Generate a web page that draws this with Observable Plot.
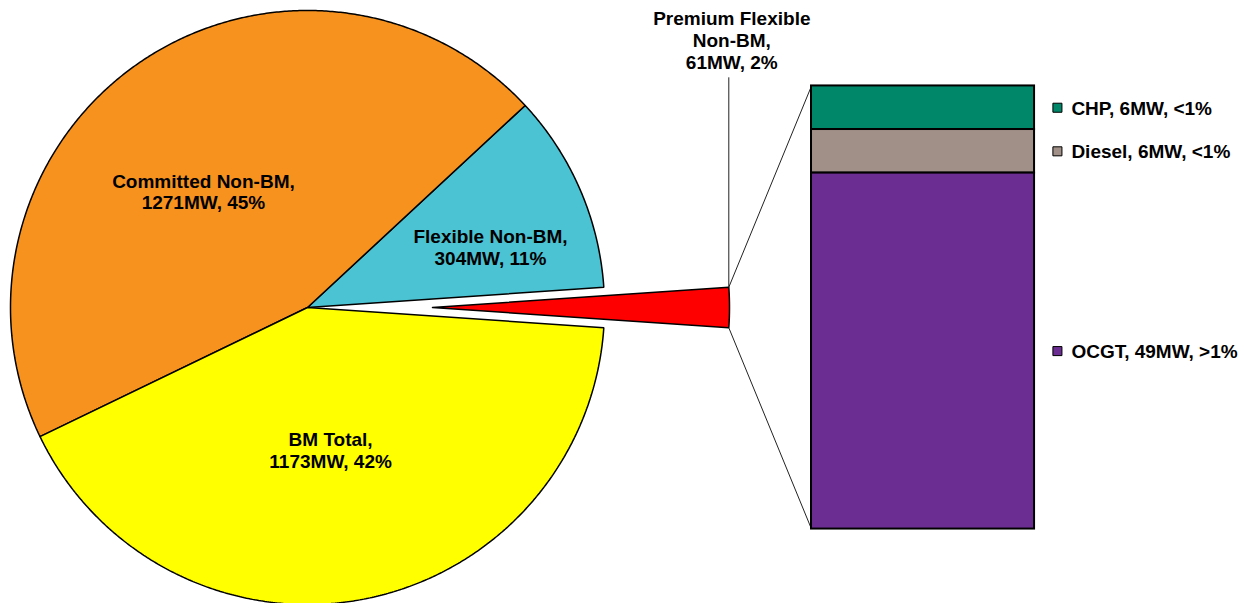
<!DOCTYPE html>
<html><head><meta charset="utf-8">
<script src="https://cdn.jsdelivr.net/npm/d3@7"></script>
<script src="https://cdn.jsdelivr.net/npm/@observablehq/plot@0.6"></script>
<style>body{margin:0;background:#fff}</style>
</head><body><div id="chart"></div>
<script>
// ---- data ----
const pieCategories = ["Premium Flexible Non-BM", "Flexible Non-BM", "Committed Non-BM", "BM Total"];
const pieValues = [61, 304, 1271, 1173];
const pieLabels = ["Premium Flexible\nNon-BM,\n61MW, 2%", "Flexible Non-BM,\n304MW, 11%", "Committed Non-BM,\n1271MW, 45%", "BM Total,\n1173MW, 42%"];
const barCategories = ["CHP", "Diesel", "OCGT"];
const barValues = [6, 6, 49];
const barLabels = ["CHP, 6MW, <1%", "Diesel, 6MW, <1%", "OCGT, 49MW, >1%"];

// ---- styles ----
const pieColors = ["#FF0000", "#4BC3D3", "#F7921E", "#FFFF00"];
const barColors = ["#00876A", "#A09088", "#6B2D91"];

// ---- layout (unit = pie radius) ----
const W = 1254, H = 603;
const cxPx = 307, cyPx = 307, Rpx = 297;
const explode = 125 / Rpx;
const barX1 = 1.697, barX2 = 2.448, barTop = 0.746, barBottom = -0.746;
const legendSquareX = 2.525, legendTextX = 2.572;
// label anchors for inner labels: [angle deg, radius fraction]
const labelPolar = [null, [18.3, 0.649], [131.9, 0.5246], [279.2, 0.4866]];
const premiumLabelY = 0.902, premiumLeaderTop = 0.775, premiumLabelDx = 3;

const deg = Math.PI / 180;
const total = d3.sum(pieValues);
let acc = -pieValues[0] / total * 180;
const slices = pieValues.map((v, i) => {
  const a0 = acc, a1 = acc + v / total * 360; acc = a1;
  const off = i === 0 ? explode : 0, mid = (a0 + a1) / 2;
  return {i, a0, a1, ox: off * Math.cos(mid * deg), oy: off * Math.sin(mid * deg)};
});
function slicePoints(s) {
  const pts = [{x: s.ox, y: s.oy}];
  const n = Math.max(4, Math.ceil((s.a1 - s.a0) / 0.4));
  for (let k = 0; k <= n; k++) {
    const a = (s.a0 + (s.a1 - s.a0) * k / n) * deg;
    pts.push({x: s.ox + Math.cos(a), y: s.oy + Math.sin(a)});
  }
  pts.push({x: s.ox, y: s.oy});
  return pts;
}

// exploded slice corners
const red = slices[0];
const redTop = {x: red.ox + Math.cos(red.a1 * deg), y: red.oy + Math.sin(red.a1 * deg)};
const redBot = {x: red.ox + Math.cos(red.a0 * deg), y: red.oy + Math.sin(red.a0 * deg)};

// bar segments
const barTotal = d3.sum(barValues);
let bacc = 0;
const segs = barValues.map((v, i) => {
  const y2 = barTop - bacc / barTotal * (barTop - barBottom);
  bacc += v;
  const y1 = barTop - bacc / barTotal * (barTop - barBottom);
  return {cat: barCategories[i], y1, y2, ym: (y1 + y2) / 2, color: barColors[i], label: barLabels[i]};
});

const innerLabels = slices.slice(1).map(s => ({
  x: labelPolar[s.i][1] * Math.cos(labelPolar[s.i][0] * deg),
  y: labelPolar[s.i][1] * Math.sin(labelPolar[s.i][0] * deg),
  text: pieLabels[s.i]
}));

const font = {fontSize: 19, fontWeight: "bold", lineHeight: 1.13, fill: "black"};

const chart = Plot.plot({
  width: W, height: H,
  margin: 0,
  x: {domain: [-cxPx / Rpx, (W - cxPx) / Rpx], range: [0, W], axis: null},
  y: {domain: [-(H - cyPx) / Rpx, cyPx / Rpx], range: [H, 0], axis: null},
  style: {fontFamily: "'Liberation Sans', Arial, sans-serif", fontSize: "19px", background: "white"},
  marks: [
    ...slices.map(s => Plot.line(slicePoints(s), {x: "x", y: "y", fill: pieColors[s.i], stroke: "black", strokeWidth: 1.5, strokeLinejoin: "miter", curve: "linear"})),
    Plot.link([{x1: redTop.x, y1: redTop.y, x2: barX1, y2: barTop}, {x1: redBot.x, y1: redBot.y, x2: barX1, y2: barBottom}],
      {x1: "x1", y1: "y1", x2: "x2", y2: "y2", stroke: "#222", strokeWidth: 1}),
    Plot.link([{x1: redTop.x, y1: redTop.y, x2: redTop.x, y2: premiumLeaderTop}],
      {x1: "x1", y1: "y1", x2: "x2", y2: "y2", stroke: "#222", strokeWidth: 1}),
    Plot.rect(segs, {x1: barX1, x2: barX2, y1: "y1", y2: "y2", fill: "color", stroke: "black", strokeWidth: 2}),
    Plot.dot(segs, {x: legendSquareX, y: "ym", symbol: "square", r: 5.1, fill: "color", stroke: "black", strokeWidth: 1}),
    Plot.text(segs, {x: legendTextX, y: "ym", text: "label", textAnchor: "start", ...font}),
    Plot.text(innerLabels, {x: "x", y: "y", text: "text", ...font}),
    Plot.text([{x: redTop.x, y: premiumLabelY, text: pieLabels[0]}], {x: "x", y: "y", text: "text", dx: premiumLabelDx, ...font, lineHeight: 1.16})
  ]
});
document.getElementById("chart").append(chart);
</script>
</body></html>
